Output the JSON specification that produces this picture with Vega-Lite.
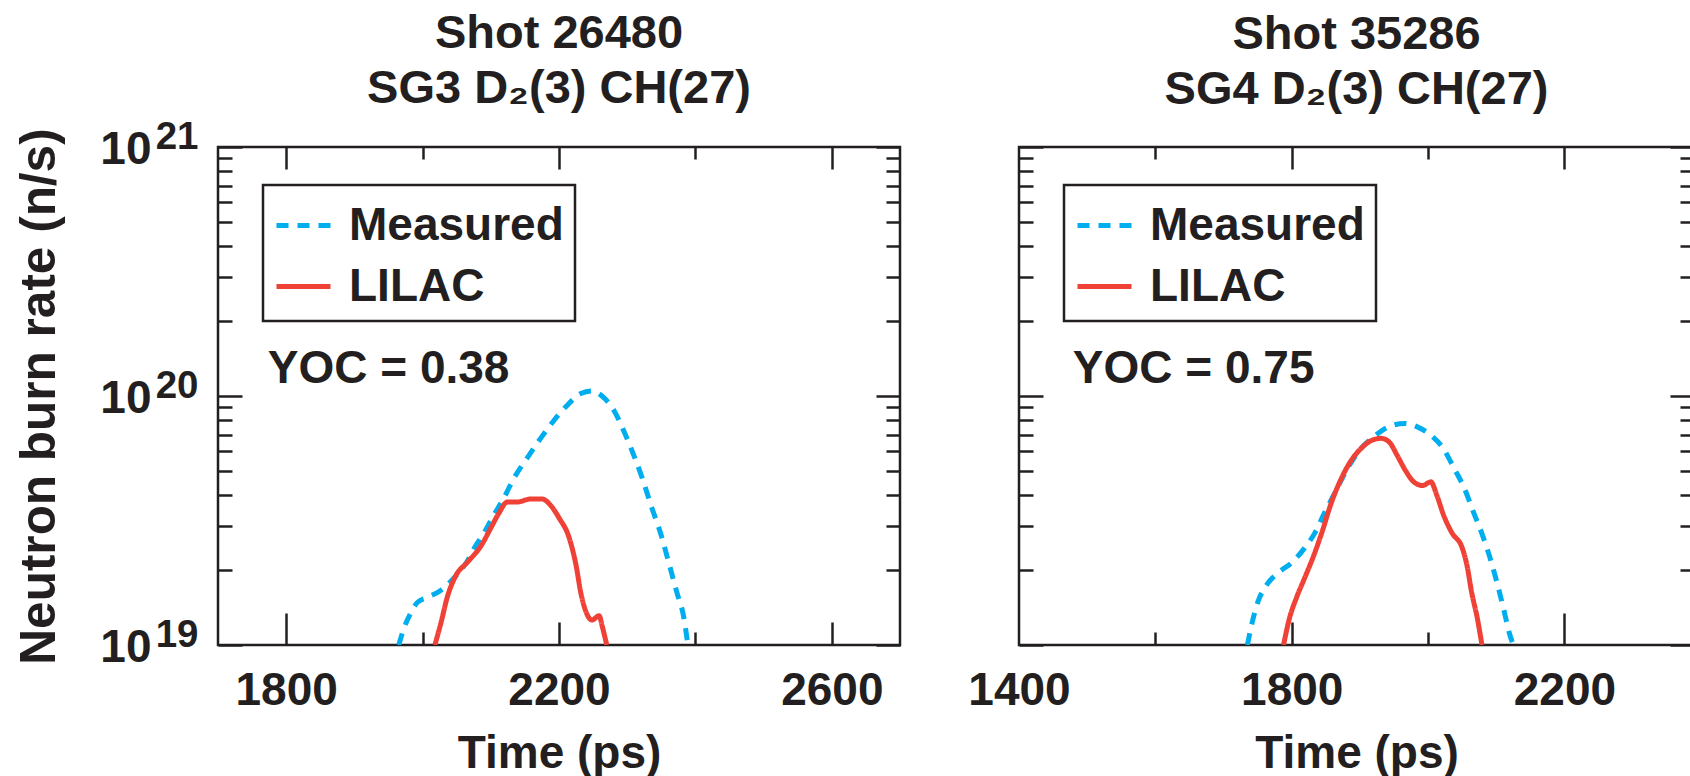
{
  "$schema": "https://vega.github.io/schema/vega-lite/v6.json",
  "background": "white",
  "padding": {"left": 12, "top": 8, "right": 0, "bottom": 0},
  "bounds": "flush",
  "spacing": 119,
  "datasets": {
    "curves": [
      {"shot": "26480", "series": "Measured", "t": 1965, "rate": 1.00e19},
      {"shot": "26480", "series": "Measured", "t": 1973, "rate": 1.175e19},
      {"shot": "26480", "series": "Measured", "t": 1983, "rate": 1.35e19},
      {"shot": "26480", "series": "Measured", "t": 1992, "rate": 1.48e19},
      {"shot": "26480", "series": "Measured", "t": 2006, "rate": 1.55e19},
      {"shot": "26480", "series": "Measured", "t": 2027, "rate": 1.66e19},
      {"shot": "26480", "series": "Measured", "t": 2046, "rate": 1.86e19},
      {"shot": "26480", "series": "Measured", "t": 2064, "rate": 2.14e19},
      {"shot": "26480", "series": "Measured", "t": 2078, "rate": 2.51e19},
      {"shot": "26480", "series": "Measured", "t": 2090, "rate": 2.82e19},
      {"shot": "26480", "series": "Measured", "t": 2104, "rate": 3.31e19},
      {"shot": "26480", "series": "Measured", "t": 2119, "rate": 3.89e19},
      {"shot": "26480", "series": "Measured", "t": 2134, "rate": 4.68e19},
      {"shot": "26480", "series": "Measured", "t": 2153, "rate": 5.62e19},
      {"shot": "26480", "series": "Measured", "t": 2173, "rate": 6.76e19},
      {"shot": "26480", "series": "Measured", "t": 2192, "rate": 7.94e19},
      {"shot": "26480", "series": "Measured", "t": 2211, "rate": 9.12e19},
      {"shot": "26480", "series": "Measured", "t": 2232, "rate": 1.023e20},
      {"shot": "26480", "series": "Measured", "t": 2248, "rate": 1.047e20},
      {"shot": "26480", "series": "Measured", "t": 2263, "rate": 1.00e20},
      {"shot": "26480", "series": "Measured", "t": 2281, "rate": 8.71e19},
      {"shot": "26480", "series": "Measured", "t": 2295, "rate": 7.24e19},
      {"shot": "26480", "series": "Measured", "t": 2310, "rate": 5.75e19},
      {"shot": "26480", "series": "Measured", "t": 2322, "rate": 4.68e19},
      {"shot": "26480", "series": "Measured", "t": 2335, "rate": 3.63e19},
      {"shot": "26480", "series": "Measured", "t": 2350, "rate": 2.75e19},
      {"shot": "26480", "series": "Measured", "t": 2361, "rate": 2.14e19},
      {"shot": "26480", "series": "Measured", "t": 2373, "rate": 1.62e19},
      {"shot": "26480", "series": "Measured", "t": 2383, "rate": 1.29e19},
      {"shot": "26480", "series": "Measured", "t": 2389, "rate": 1.00e19},
      {"shot": "26480", "series": "LILAC", "t": 2018, "rate": 1.00e19},
      {"shot": "26480", "series": "LILAC", "t": 2027, "rate": 1.23e19},
      {"shot": "26480", "series": "LILAC", "t": 2036, "rate": 1.55e19},
      {"shot": "26480", "series": "LILAC", "t": 2049, "rate": 1.905e19},
      {"shot": "26480", "series": "LILAC", "t": 2065, "rate": 2.14e19},
      {"shot": "26480", "series": "LILAC", "t": 2086, "rate": 2.51e19},
      {"shot": "26480", "series": "LILAC", "t": 2100, "rate": 2.95e19},
      {"shot": "26480", "series": "LILAC", "t": 2112, "rate": 3.39e19},
      {"shot": "26480", "series": "LILAC", "t": 2124, "rate": 3.75e19},
      {"shot": "26480", "series": "LILAC", "t": 2138, "rate": 3.75e19},
      {"shot": "26480", "series": "LILAC", "t": 2159, "rate": 3.86e19},
      {"shot": "26480", "series": "LILAC", "t": 2175, "rate": 3.86e19},
      {"shot": "26480", "series": "LILAC", "t": 2188, "rate": 3.63e19},
      {"shot": "26480", "series": "LILAC", "t": 2200, "rate": 3.24e19},
      {"shot": "26480", "series": "LILAC", "t": 2215, "rate": 2.69e19},
      {"shot": "26480", "series": "LILAC", "t": 2225, "rate": 2.09e19},
      {"shot": "26480", "series": "LILAC", "t": 2232, "rate": 1.62e19},
      {"shot": "26480", "series": "LILAC", "t": 2240, "rate": 1.35e19},
      {"shot": "26480", "series": "LILAC", "t": 2248, "rate": 1.26e19},
      {"shot": "26480", "series": "LILAC", "t": 2259, "rate": 1.31e19},
      {"shot": "26480", "series": "LILAC", "t": 2263, "rate": 1.20e19},
      {"shot": "26480", "series": "LILAC", "t": 2270, "rate": 1.00e19},
      {"shot": "35286", "series": "Measured", "t": 1735, "rate": 1.00e19},
      {"shot": "35286", "series": "Measured", "t": 1741, "rate": 1.20e19},
      {"shot": "35286", "series": "Measured", "t": 1750, "rate": 1.48e19},
      {"shot": "35286", "series": "Measured", "t": 1763, "rate": 1.74e19},
      {"shot": "35286", "series": "Measured", "t": 1780, "rate": 1.95e19},
      {"shot": "35286", "series": "Measured", "t": 1800, "rate": 2.14e19},
      {"shot": "35286", "series": "Measured", "t": 1819, "rate": 2.455e19},
      {"shot": "35286", "series": "Measured", "t": 1834, "rate": 2.82e19},
      {"shot": "35286", "series": "Measured", "t": 1848, "rate": 3.39e19},
      {"shot": "35286", "series": "Measured", "t": 1863, "rate": 4.07e19},
      {"shot": "35286", "series": "Measured", "t": 1882, "rate": 5.13e19},
      {"shot": "35286", "series": "Measured", "t": 1902, "rate": 6.17e19},
      {"shot": "35286", "series": "Measured", "t": 1922, "rate": 6.92e19},
      {"shot": "35286", "series": "Measured", "t": 1941, "rate": 7.50e19},
      {"shot": "35286", "series": "Measured", "t": 1966, "rate": 7.76e19},
      {"shot": "35286", "series": "Measured", "t": 1985, "rate": 7.50e19},
      {"shot": "35286", "series": "Measured", "t": 2005, "rate": 6.92e19},
      {"shot": "35286", "series": "Measured", "t": 2022, "rate": 6.17e19},
      {"shot": "35286", "series": "Measured", "t": 2038, "rate": 5.13e19},
      {"shot": "35286", "series": "Measured", "t": 2053, "rate": 4.27e19},
      {"shot": "35286", "series": "Measured", "t": 2067, "rate": 3.39e19},
      {"shot": "35286", "series": "Measured", "t": 2080, "rate": 2.75e19},
      {"shot": "35286", "series": "Measured", "t": 2093, "rate": 2.14e19},
      {"shot": "35286", "series": "Measured", "t": 2102, "rate": 1.74e19},
      {"shot": "35286", "series": "Measured", "t": 2112, "rate": 1.35e19},
      {"shot": "35286", "series": "Measured", "t": 2119, "rate": 1.12e19},
      {"shot": "35286", "series": "Measured", "t": 2125, "rate": 1.00e19},
      {"shot": "35286", "series": "LILAC", "t": 1788, "rate": 1.00e19},
      {"shot": "35286", "series": "LILAC", "t": 1797, "rate": 1.29e19},
      {"shot": "35286", "series": "LILAC", "t": 1807, "rate": 1.55e19},
      {"shot": "35286", "series": "LILAC", "t": 1819, "rate": 1.86e19},
      {"shot": "35286", "series": "LILAC", "t": 1831, "rate": 2.24e19},
      {"shot": "35286", "series": "LILAC", "t": 1844, "rate": 2.82e19},
      {"shot": "35286", "series": "LILAC", "t": 1858, "rate": 3.72e19},
      {"shot": "35286", "series": "LILAC", "t": 1873, "rate": 4.68e19},
      {"shot": "35286", "series": "LILAC", "t": 1887, "rate": 5.50e19},
      {"shot": "35286", "series": "LILAC", "t": 1902, "rate": 6.17e19},
      {"shot": "35286", "series": "LILAC", "t": 1916, "rate": 6.61e19},
      {"shot": "35286", "series": "LILAC", "t": 1931, "rate": 6.76e19},
      {"shot": "35286", "series": "LILAC", "t": 1943, "rate": 6.53e19},
      {"shot": "35286", "series": "LILAC", "t": 1955, "rate": 5.75e19},
      {"shot": "35286", "series": "LILAC", "t": 1967, "rate": 5.01e19},
      {"shot": "35286", "series": "LILAC", "t": 1979, "rate": 4.52e19},
      {"shot": "35286", "series": "LILAC", "t": 1992, "rate": 4.37e19},
      {"shot": "35286", "series": "LILAC", "t": 2004, "rate": 4.52e19},
      {"shot": "35286", "series": "LILAC", "t": 2013, "rate": 3.98e19},
      {"shot": "35286", "series": "LILAC", "t": 2023, "rate": 3.31e19},
      {"shot": "35286", "series": "LILAC", "t": 2035, "rate": 2.82e19},
      {"shot": "35286", "series": "LILAC", "t": 2050, "rate": 2.455e19},
      {"shot": "35286", "series": "LILAC", "t": 2057, "rate": 2.09e19},
      {"shot": "35286", "series": "LILAC", "t": 2064, "rate": 1.62e19},
      {"shot": "35286", "series": "LILAC", "t": 2072, "rate": 1.29e19},
      {"shot": "35286", "series": "LILAC", "t": 2079, "rate": 1.00e19}
    ],
    "notes": [
      {"shot": "26480", "t": 1773, "rate": 1.128e20, "label": "YOC = 0.38"},
      {"shot": "35286", "t": 1479, "rate": 1.128e20, "label": "YOC = 0.75"}
    ]
  },
  "hconcat": [
    {
      "title": {"text": ["Shot 26480", "SG3 D₂(3) CH(27)"], "offset": 4},
      "width": 682,
      "height": 498,
      "data": {"name": "curves"},
      "transform": [{"filter": "datum.shot == '26480'"}],
      "resolve": {"axis": {"x": "independent", "y": "independent"}},
      "layer": [
        {
          "transform": [{"filter": "datum.series == 'Measured'"}],
          "mark": {"type": "line", "interpolate": "monotone", "strokeWidth": 5, "clip": true},
          "encoding": {
            "x": {"field": "t", "type": "quantitative", "scale": {"domain": [1700, 2700], "nice": false, "zero": false},
              "axis": {"orient": "bottom", "values": [1800, 2200, 2600], "format": "d", "ticks": false, "labelPadding": 59, "labelBaseline": "alphabetic", "title": "Time (ps)", "titleY": 122, "titleBaseline": "alphabetic"}},
            "y": {"field": "rate", "type": "quantitative", "scale": {"type": "log", "domain": [1e19, 1e21], "nice": false},
              "axis": {"orient": "left", "values": [1e19, 1e20, 1e21], "ticks": false, "labelExpr": "'10'", "labelPadding": 67, "labelBaseline": "alphabetic", "labelOffset": 16, "title": "Neutron burn rate (n/s)", "titleFontSize": 49.5, "titleX": -164, "titleBaseline": "alphabetic", "titleLimit": 1000}},
            "color": {"field": "series", "type": "nominal", "scale": {"domain": ["Measured", "LILAC"], "range": ["#00AEEF", "#EF4136"]},
              "legend": {"title": null, "orient": "none", "legendX": 45, "legendY": 38, "padding": 11, "strokeColor": "#231F20", "labelFontSize": 46, "labelFont": "Liberation Sans", "labelFontWeight": "bold", "labelColor": "#231F20", "labelLimit": 600, "labelOffset": 16, "symbolType": "stroke", "symbolSize": 2916, "symbolStrokeWidth": 5, "rowPadding": 8, "encode": {"legend": {"update": {"strokeWidth": {"value": 2.5}}}}}},
            "strokeDash": {"field": "series", "type": "nominal", "scale": {"domain": ["Measured", "LILAC"], "range": [[12, 9], [1, 0]]},
              "legend": {"title": null, "orient": "none", "legendX": 45, "legendY": 38, "padding": 11, "strokeColor": "#231F20", "labelFontSize": 46, "labelFont": "Liberation Sans", "labelFontWeight": "bold", "labelColor": "#231F20", "labelLimit": 600, "labelOffset": 16, "symbolType": "stroke", "symbolSize": 2916, "symbolStrokeWidth": 5, "rowPadding": 8, "encode": {"legend": {"update": {"strokeWidth": {"value": 2.5}}}}}}
          }
        },
        {
          "transform": [{"filter": "datum.series == 'LILAC'"}],
          "mark": {"type": "line", "interpolate": "monotone", "strokeWidth": 5, "clip": true},
          "encoding": {
            "x": {"field": "t", "type": "quantitative", "scale": {"domain": [1700, 2700], "nice": false, "zero": false},
              "axis": {"orient": "bottom", "values": [2200, 2600], "labels": false, "tickSize": -23, "title": null}},
            "y": {"field": "rate", "type": "quantitative", "scale": {"type": "log", "domain": [1e19, 1e21], "nice": false},
              "axis": {"orient": "left", "values": [1e19, 1e20, 1e21], "ticks": false, "labelExpr": "datum.value > 5e20 ? '21' : datum.value > 5e19 ? '20' : '19'", "labelFontSize": 38.5, "labelPadding": 20, "labelBaseline": "alphabetic", "labelOffset": 1, "title": null}},
            "color": {"field": "series", "type": "nominal", "scale": {"domain": ["Measured", "LILAC"], "range": ["#00AEEF", "#EF4136"]},
              "legend": {"title": null, "orient": "none", "legendX": 45, "legendY": 38, "padding": 11, "strokeColor": "#231F20", "labelFontSize": 46, "labelFont": "Liberation Sans", "labelFontWeight": "bold", "labelColor": "#231F20", "labelLimit": 600, "labelOffset": 16, "symbolType": "stroke", "symbolSize": 2916, "symbolStrokeWidth": 5, "rowPadding": 8, "encode": {"legend": {"update": {"strokeWidth": {"value": 2.5}}}}}},
            "strokeDash": {"field": "series", "type": "nominal", "scale": {"domain": ["Measured", "LILAC"], "range": [[12, 9], [1, 0]]},
              "legend": {"title": null, "orient": "none", "legendX": 45, "legendY": 38, "padding": 11, "strokeColor": "#231F20", "labelFontSize": 46, "labelFont": "Liberation Sans", "labelFontWeight": "bold", "labelColor": "#231F20", "labelLimit": 600, "labelOffset": 16, "symbolType": "stroke", "symbolSize": 2916, "symbolStrokeWidth": 5, "rowPadding": 8, "encode": {"legend": {"update": {"strokeWidth": {"value": 2.5}}}}}}
          }
        },
        {
          "mark": {"type": "point", "opacity": 0, "size": 0},
          "encoding": {
            "x": {"field": "t", "type": "quantitative", "scale": {"domain": [1700, 2700], "nice": false, "zero": false},
              "axis": {"orient": "bottom", "values": [1800], "labels": false, "tickSize": -32, "title": null}},
            "y": {"field": "rate", "type": "quantitative", "scale": {"type": "log", "domain": [1e19, 1e21], "nice": false},
              "axis": {"orient": "left", "values": [1e19, 1e20, 1e21], "labels": false, "tickSize": -24, "title": null}}
          }
        },
        {
          "mark": {"type": "point", "opacity": 0, "size": 0},
          "encoding": {
            "x": {"field": "t", "type": "quantitative", "scale": {"domain": [1700, 2700], "nice": false, "zero": false},
              "axis": {"orient": "bottom", "values": [2000, 2400], "labels": false, "tickSize": -13, "title": null}},
            "y": {"field": "rate", "type": "quantitative", "scale": {"type": "log", "domain": [1e19, 1e21], "nice": false},
              "axis": {"orient": "left", "values": [2e19, 3e19, 4e19, 5e19, 6e19, 7e19, 8e19, 9e19, 2e20, 3e20, 4e20, 5e20, 6e20, 7e20, 8e20, 9e20], "labels": false, "tickSize": -14, "title": null}}
          }
        },
        {
          "mark": {"type": "point", "opacity": 0, "size": 0},
          "encoding": {
            "x": {"field": "t", "type": "quantitative", "scale": {"domain": [1700, 2700], "nice": false, "zero": false},
              "axis": {"orient": "top", "values": [1800, 2200, 2600], "labels": false, "tickSize": -22, "title": null}},
            "y": {"field": "rate", "type": "quantitative", "scale": {"type": "log", "domain": [1e19, 1e21], "nice": false},
              "axis": {"orient": "right", "values": [1e19, 1e20, 1e21], "labels": false, "tickSize": -24, "title": null}}
          }
        },
        {
          "mark": {"type": "point", "opacity": 0, "size": 0},
          "encoding": {
            "x": {"field": "t", "type": "quantitative", "scale": {"domain": [1700, 2700], "nice": false, "zero": false},
              "axis": {"orient": "top", "values": [2000, 2400], "labels": false, "tickSize": -12, "title": null}},
            "y": {"field": "rate", "type": "quantitative", "scale": {"type": "log", "domain": [1e19, 1e21], "nice": false},
              "axis": {"orient": "right", "values": [2e19, 3e19, 4e19, 5e19, 6e19, 7e19, 8e19, 9e19, 2e20, 3e20, 4e20, 5e20, 6e20, 7e20, 8e20, 9e20], "labels": false, "tickSize": -14, "title": null}}
          }
        },
        {
          "data": {"name": "notes"},
          "transform": [{"filter": "datum.shot == '26480'"}],
          "mark": {"type": "text", "align": "left", "baseline": "alphabetic", "fontSize": 46, "fontWeight": "bold", "font": "Liberation Sans", "color": "#231F20"},
          "encoding": {
            "x": {"field": "t", "type": "quantitative", "scale": {"domain": [1700, 2700], "nice": false, "zero": false}, "axis": null},
            "y": {"field": "rate", "type": "quantitative", "scale": {"type": "log", "domain": [1e19, 1e21], "nice": false}, "axis": null},
            "text": {"field": "label"}
          }
        }
      ]
    },
    {
      "title": {"text": ["Shot 35286", "SG4 D₂(3) CH(27)"], "offset": 32},
      "width": 675,
      "height": 498,
      "data": {"name": "curves"},
      "transform": [{"filter": "datum.shot == '35286'"}],
      "resolve": {"axis": {"x": "independent", "y": "independent"}},
      "layer": [
        {
          "transform": [{"filter": "datum.series == 'Measured'"}],
          "mark": {"type": "line", "interpolate": "monotone", "strokeWidth": 5, "clip": true},
          "encoding": {
            "x": {"field": "t", "type": "quantitative", "scale": {"domain": [1400, 2390], "nice": false, "zero": false},
              "axis": {"orient": "bottom", "values": [1400, 1800, 2200], "format": "d", "ticks": false, "labelPadding": 59, "labelBaseline": "alphabetic", "title": "Time (ps)", "titleY": 122, "titleBaseline": "alphabetic"}},
            "y": {"field": "rate", "type": "quantitative", "scale": {"type": "log", "domain": [1e19, 1e21], "nice": false},
              "axis": {"orient": "left", "values": [1e19, 1e20, 1e21], "labels": false, "tickSize": -24, "title": null}},
            "color": {"field": "series", "type": "nominal", "scale": {"domain": ["Measured", "LILAC"], "range": ["#00AEEF", "#EF4136"]},
              "legend": {"title": null, "orient": "none", "legendX": 45, "legendY": 38, "padding": 11, "strokeColor": "#231F20", "labelFontSize": 46, "labelFont": "Liberation Sans", "labelFontWeight": "bold", "labelColor": "#231F20", "labelLimit": 600, "labelOffset": 16, "symbolType": "stroke", "symbolSize": 2916, "symbolStrokeWidth": 5, "rowPadding": 8, "encode": {"legend": {"update": {"strokeWidth": {"value": 2.5}}}}}},
            "strokeDash": {"field": "series", "type": "nominal", "scale": {"domain": ["Measured", "LILAC"], "range": [[12, 9], [1, 0]]},
              "legend": {"title": null, "orient": "none", "legendX": 45, "legendY": 38, "padding": 11, "strokeColor": "#231F20", "labelFontSize": 46, "labelFont": "Liberation Sans", "labelFontWeight": "bold", "labelColor": "#231F20", "labelLimit": 600, "labelOffset": 16, "symbolType": "stroke", "symbolSize": 2916, "symbolStrokeWidth": 5, "rowPadding": 8, "encode": {"legend": {"update": {"strokeWidth": {"value": 2.5}}}}}}
          }
        },
        {
          "transform": [{"filter": "datum.series == 'LILAC'"}],
          "mark": {"type": "line", "interpolate": "monotone", "strokeWidth": 5, "clip": true},
          "encoding": {
            "x": {"field": "t", "type": "quantitative", "scale": {"domain": [1400, 2390], "nice": false, "zero": false},
              "axis": {"orient": "bottom", "values": [1800], "labels": false, "tickSize": -23, "title": null}},
            "y": {"field": "rate", "type": "quantitative", "scale": {"type": "log", "domain": [1e19, 1e21], "nice": false},
              "axis": {"orient": "left", "values": [2e19, 3e19, 4e19, 5e19, 6e19, 7e19, 8e19, 9e19, 2e20, 3e20, 4e20, 5e20, 6e20, 7e20, 8e20, 9e20], "labels": false, "tickSize": -14, "title": null}},
            "color": {"field": "series", "type": "nominal", "scale": {"domain": ["Measured", "LILAC"], "range": ["#00AEEF", "#EF4136"]},
              "legend": {"title": null, "orient": "none", "legendX": 45, "legendY": 38, "padding": 11, "strokeColor": "#231F20", "labelFontSize": 46, "labelFont": "Liberation Sans", "labelFontWeight": "bold", "labelColor": "#231F20", "labelLimit": 600, "labelOffset": 16, "symbolType": "stroke", "symbolSize": 2916, "symbolStrokeWidth": 5, "rowPadding": 8, "encode": {"legend": {"update": {"strokeWidth": {"value": 2.5}}}}}},
            "strokeDash": {"field": "series", "type": "nominal", "scale": {"domain": ["Measured", "LILAC"], "range": [[12, 9], [1, 0]]},
              "legend": {"title": null, "orient": "none", "legendX": 45, "legendY": 38, "padding": 11, "strokeColor": "#231F20", "labelFontSize": 46, "labelFont": "Liberation Sans", "labelFontWeight": "bold", "labelColor": "#231F20", "labelLimit": 600, "labelOffset": 16, "symbolType": "stroke", "symbolSize": 2916, "symbolStrokeWidth": 5, "rowPadding": 8, "encode": {"legend": {"update": {"strokeWidth": {"value": 2.5}}}}}}
          }
        },
        {
          "mark": {"type": "point", "opacity": 0, "size": 0},
          "encoding": {
            "x": {"field": "t", "type": "quantitative", "scale": {"domain": [1400, 2390], "nice": false, "zero": false},
              "axis": {"orient": "bottom", "values": [2200], "labels": false, "tickSize": -32, "title": null}},
            "y": {"field": "rate", "type": "quantitative", "scale": {"type": "log", "domain": [1e19, 1e21], "nice": false},
              "axis": {"orient": "right", "values": [1e19, 1e20, 1e21], "labels": false, "tickSize": -24, "title": null}}
          }
        },
        {
          "mark": {"type": "point", "opacity": 0, "size": 0},
          "encoding": {
            "x": {"field": "t", "type": "quantitative", "scale": {"domain": [1400, 2390], "nice": false, "zero": false},
              "axis": {"orient": "bottom", "values": [1600, 2000], "labels": false, "tickSize": -13, "title": null}},
            "y": {"field": "rate", "type": "quantitative", "scale": {"type": "log", "domain": [1e19, 1e21], "nice": false},
              "axis": {"orient": "right", "values": [2e19, 3e19, 4e19, 5e19, 6e19, 7e19, 8e19, 9e19, 2e20, 3e20, 4e20, 5e20, 6e20, 7e20, 8e20, 9e20], "labels": false, "tickSize": -14, "title": null}}
          }
        },
        {
          "mark": {"type": "point", "opacity": 0, "size": 0},
          "encoding": {
            "x": {"field": "t", "type": "quantitative", "scale": {"domain": [1400, 2390], "nice": false, "zero": false},
              "axis": {"orient": "top", "values": [1800, 2200], "labels": false, "tickSize": -22, "title": null}},
            "y": {"field": "rate", "type": "quantitative", "scale": {"type": "log", "domain": [1e19, 1e21], "nice": false}, "axis": null}
          }
        },
        {
          "mark": {"type": "point", "opacity": 0, "size": 0},
          "encoding": {
            "x": {"field": "t", "type": "quantitative", "scale": {"domain": [1400, 2390], "nice": false, "zero": false},
              "axis": {"orient": "top", "values": [1600, 2000], "labels": false, "tickSize": -12, "title": null}},
            "y": {"field": "rate", "type": "quantitative", "scale": {"type": "log", "domain": [1e19, 1e21], "nice": false}, "axis": null}
          }
        },
        {
          "data": {"name": "notes"},
          "transform": [{"filter": "datum.shot == '35286'"}],
          "mark": {"type": "text", "align": "left", "baseline": "alphabetic", "fontSize": 46, "fontWeight": "bold", "font": "Liberation Sans", "color": "#231F20"},
          "encoding": {
            "x": {"field": "t", "type": "quantitative", "scale": {"domain": [1400, 2390], "nice": false, "zero": false}, "axis": null},
            "y": {"field": "rate", "type": "quantitative", "scale": {"type": "log", "domain": [1e19, 1e21], "nice": false}, "axis": null},
            "text": {"field": "label"}
          }
        }
      ]
    }
  ],
  "resolve": {
    "scale": {"color": "independent", "strokeDash": "independent"},
    "legend": {"color": "independent", "strokeDash": "independent"}
  },
  "config": {
    "font": "Liberation Sans",
    "view": {"stroke": "#231F20", "strokeWidth": 2.5},
    "axis": {
      "grid": false, "domain": false,
      "labelFont": "Liberation Sans", "labelFontWeight": "bold", "labelColor": "#231F20", "labelFontSize": 46,
      "labelFlush": false, "labelOverlap": false, "labelBound": false,
      "tickColor": "#231F20", "tickWidth": 2.5,
      "titleFont": "Liberation Sans", "titleFontWeight": "bold", "titleColor": "#231F20", "titleFontSize": 46
    },
    "title": {"font": "Liberation Sans", "fontSize": 47, "fontWeight": "bold", "color": "#231F20", "lineHeight": 55, "anchor": "middle"}
  }
}
